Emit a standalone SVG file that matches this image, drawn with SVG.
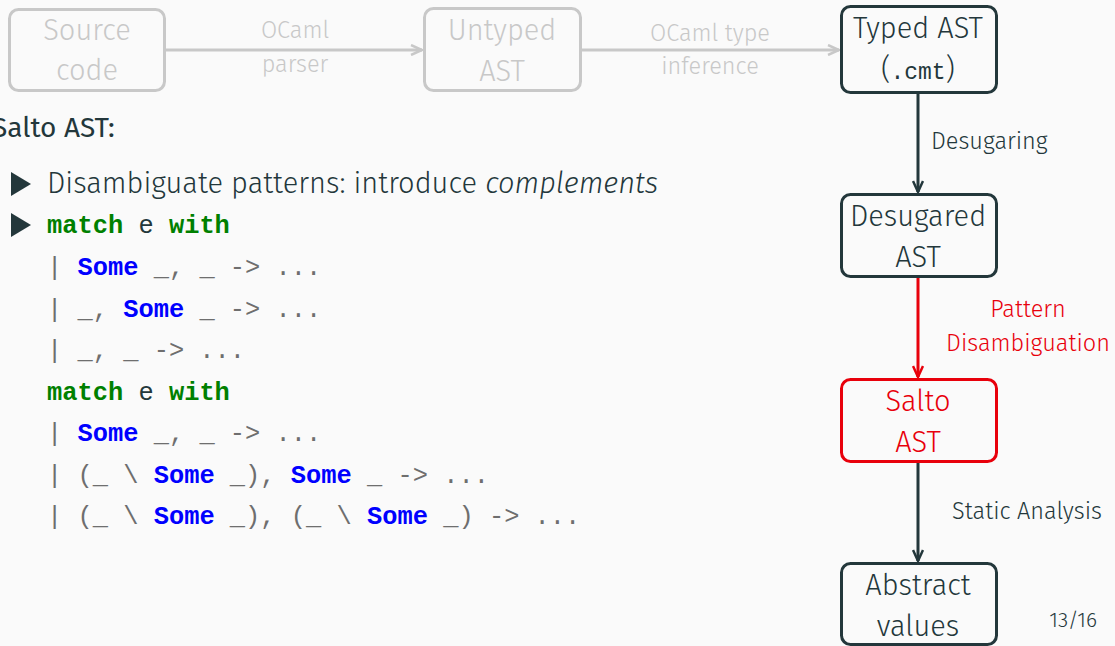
<svg xmlns="http://www.w3.org/2000/svg" width="1115" height="646" viewBox="0 0 1115 646">
  <style>
    .sans { font-family: "Fira Sans", "Open Sans", "Liberation Sans", sans-serif; font-weight: 300; }
    .mono { font-family: "Liberation Mono", "DejaVu Sans Mono", monospace; }
    .box { fill: none; stroke-width: 3; }
    .dark { stroke: #23373B; }
    .faint { stroke: #C8C8C8; }
    .red { stroke: #E8000B; }
    .node { font-size: 29px; text-anchor: middle; }
    .lbl { font-size: 23.5px; }
    .kw { fill: #008000; font-weight: bold; }
    .ctor { fill: #0000FF; font-weight: bold; }
    .pl { fill: #6E6E6E; }
    .id { fill: #23373B; }
  </style>
  <defs>
    <marker id="arrDark" markerWidth="16" markerHeight="12" refX="13" refY="6" orient="auto" markerUnits="userSpaceOnUse">
      <path d="M2,1 L13,6 L2,11" fill="none" stroke="#23373B" stroke-width="2.5"/>
    </marker>
    <marker id="arrRed" markerWidth="16" markerHeight="12" refX="13" refY="6" orient="auto" markerUnits="userSpaceOnUse">
      <path d="M2,1 L13,6 L2,11" fill="none" stroke="#E8000B" stroke-width="2.5"/>
    </marker>
    <marker id="arrFaint" markerWidth="16" markerHeight="12" refX="13" refY="6" orient="auto" markerUnits="userSpaceOnUse">
      <path d="M2,1 L13,6 L2,11" fill="none" stroke="#C8C8C8" stroke-width="2.5"/>
    </marker>
  </defs>

  <rect x="0" y="0" width="1115" height="646" fill="#FAFAFA"/>

  <!-- connectors -->
  <g id="connectors">
    <line x1="164" y1="50" x2="422" y2="50" stroke="#C8C8C8" stroke-width="3" marker-end="url(#arrFaint)"/>
    <line x1="582" y1="50" x2="839" y2="50" stroke="#C8C8C8" stroke-width="3" marker-end="url(#arrFaint)"/>
    <line x1="918" y1="92" x2="918" y2="192" stroke="#23373B" stroke-width="3" marker-end="url(#arrDark)"/>
    <line x1="918" y1="277" x2="918" y2="377" stroke="#E8000B" stroke-width="3" marker-end="url(#arrRed)"/>
    <line x1="918" y1="462" x2="918" y2="561" stroke="#23373B" stroke-width="3" marker-end="url(#arrDark)"/>

    <g class="sans lbl">
      <text x="295" y="38" text-anchor="middle" fill="#C8C8C8">OCaml</text>
      <text x="295" y="72" text-anchor="middle" fill="#C8C8C8">parser</text>
      <text x="710" y="41" text-anchor="middle" fill="#C8C8C8">OCaml type</text>
      <text x="710" y="74" text-anchor="middle" fill="#C8C8C8">inference</text>
      <text x="931" y="149" fill="#23373B">Desugaring</text>
      <text x="1028" y="317" text-anchor="middle" fill="#E8000B">Pattern</text>
      <text x="1028" y="351" text-anchor="middle" fill="#E8000B">Disambiguation</text>
      <text x="952" y="519" fill="#23373B">Static Analysis</text>
    </g>
  </g>

  <!-- nodes -->
  <g id="source-code">
    <rect class="box faint" x="9.5" y="9.5" width="155" height="81" rx="9"/>
    <text class="sans node" x="87" y="40" fill="#C8C8C8">Source</text>
    <text class="sans node" x="87" y="80" fill="#C8C8C8">code</text>
  </g>
  <g id="untyped-ast">
    <rect class="box faint" x="424.5" y="8.5" width="156" height="82" rx="9"/>
    <text class="sans node" x="502" y="40" fill="#C8C8C8">Untyped</text>
    <text class="sans node" x="502" y="81" fill="#C8C8C8">AST</text>
  </g>
  <g id="typed-ast">
    <rect class="box dark" x="841.5" y="6.5" width="155" height="86" rx="9"/>
    <text class="sans node" x="918" y="38" fill="#23373B">Typed AST</text>
    <text x="918" y="79" fill="#23373B" text-anchor="middle" font-size="29"><tspan class="sans">(</tspan><tspan class="mono" font-size="23">.cmt</tspan><tspan class="sans">)</tspan></text>
  </g>
  <g id="desugared-ast">
    <rect class="box dark" x="841.5" y="194.5" width="155" height="82" rx="9"/>
    <text class="sans node" x="918" y="226" fill="#23373B">Desugared</text>
    <text class="sans node" x="918" y="267" fill="#23373B">AST</text>
  </g>
  <g id="salto-ast">
    <rect class="box red" x="841.5" y="379.5" width="155" height="82" rx="9"/>
    <text class="sans node" x="918" y="411" fill="#E8000B">Salto</text>
    <text class="sans node" x="918" y="452" fill="#E8000B">AST</text>
  </g>
  <g id="abstract-values">
    <rect class="box dark" x="841.5" y="563.5" width="155" height="81" rx="9"/>
    <text class="sans node" x="918" y="595" fill="#23373B">Abstract</text>
    <text class="sans node" x="918" y="636" fill="#23373B">values</text>
  </g>

  <!-- slide body -->
  <g id="body">
    <text x="-8" y="137" font-size="28" fill="#23373B" font-family="'Fira Sans', 'Open Sans', 'Liberation Sans', sans-serif" font-weight="400">Salto AST:</text>
    <polygon points="11,172 31,184 11,196" fill="#23373B"/>
    <polygon points="11,213 31,225 11,237" fill="#23373B"/>
    <text class="sans" x="47" y="193" font-size="29" fill="#23373B">Disambiguate patterns: introduce <tspan font-style="italic">complements</tspan></text>

    <g class="mono" font-size="25.4" xml:space="preserve">
      <text x="47" y="233"><tspan class="kw">match</tspan><tspan class="id"> e </tspan><tspan class="kw">with</tspan></text>
      <text x="47" y="275"><tspan class="pl">| </tspan><tspan class="ctor">Some</tspan><tspan class="pl"> _, _ -&gt; ...</tspan></text>
      <text x="47" y="317"><tspan class="pl">| _, </tspan><tspan class="ctor">Some</tspan><tspan class="pl"> _ -&gt; ...</tspan></text>
      <text x="47" y="358"><tspan class="pl">| _, _ -&gt; ...</tspan></text>
      <text x="47" y="400"><tspan class="kw">match</tspan><tspan class="id"> e </tspan><tspan class="kw">with</tspan></text>
      <text x="47" y="441"><tspan class="pl">| </tspan><tspan class="ctor">Some</tspan><tspan class="pl"> _, _ -&gt; ...</tspan></text>
      <text x="47" y="483"><tspan class="pl">| (_ \ </tspan><tspan class="ctor">Some</tspan><tspan class="pl"> _), </tspan><tspan class="ctor">Some</tspan><tspan class="pl"> _ -&gt; ...</tspan></text>
      <text x="47" y="524"><tspan class="pl">| (_ \ </tspan><tspan class="ctor">Some</tspan><tspan class="pl"> _), (_ \ </tspan><tspan class="ctor">Some</tspan><tspan class="pl"> _) -&gt; ...</tspan></text>
    </g>

    <text class="sans" x="1097" y="627" font-size="21" fill="#23373B" text-anchor="end">13/16</text>
  </g>
</svg>
